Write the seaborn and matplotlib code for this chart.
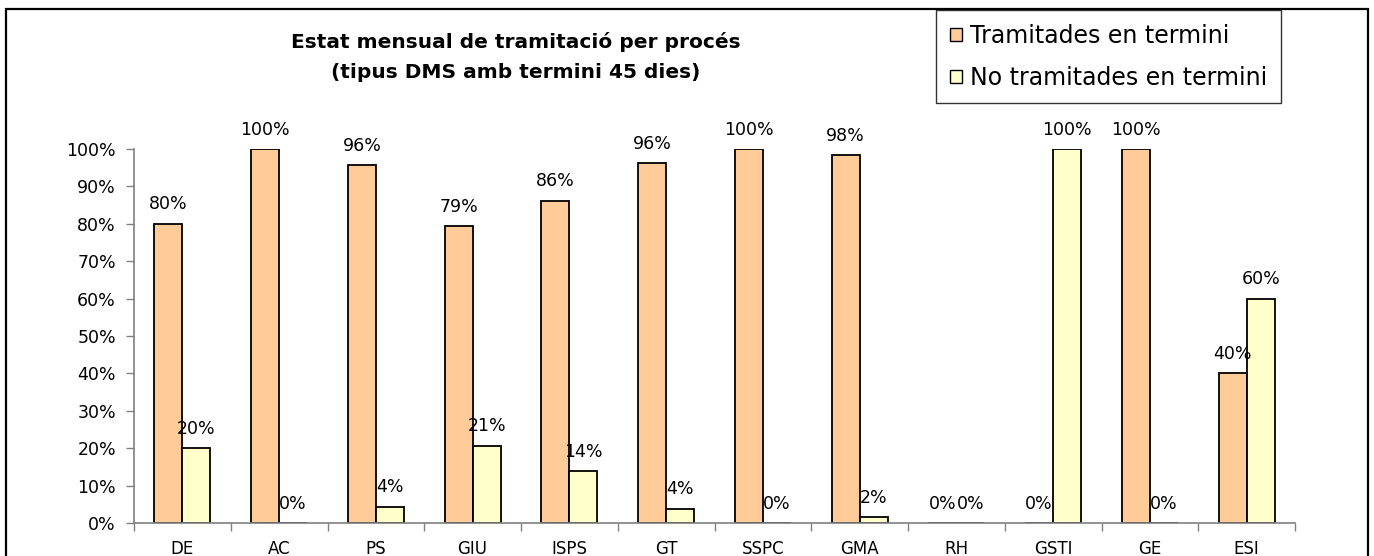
import numpy as np
import pandas as pd
import matplotlib
matplotlib.use("Agg")
import matplotlib.pyplot as plt
from matplotlib.patches import Patch, Rectangle
import seaborn as sns

# ---- data ----
categories = ["DE", "AC", "PS", "GIU", "ISPS", "GT", "SSPC", "GMA", "RH", "GSTI", "GE", "ESI"]
tramitades = [0.80, 1.00, 0.957, 0.793, 0.862, 0.962, 1.00, 0.984, 0.0, 0.0, 1.00, 0.40]
no_tramitades = [0.20, 0.0, 0.043, 0.207, 0.138, 0.038, 0.0, 0.016, 0.0, 1.00, 0.0, 0.60]
series_names = ["Tramitades en termini", "No tramitades en termini"]
y_ticks = [0.0, 0.1, 0.2, 0.3, 0.4, 0.5, 0.6, 0.7, 0.8, 0.9, 1.0]
title_text = "Estat mensual de tramitació per procés\n(tipus DMS amb termini 45 dies)"

colors = ["#FFCC99", "#FFFFCC"]

df = pd.DataFrame({
    "cat": categories * 2,
    "val": tramitades + no_tramitades,
    "serie": [series_names[0]] * len(categories) + [series_names[1]] * len(categories),
})

sns.set_style("white")
plt.rcParams["font.family"] = ["DejaVu Sans"]
plt.rcParams["text.color"] = "black"
plt.rcParams["xtick.color"] = "black"
plt.rcParams["ytick.color"] = "black"
plt.rcParams["axes.labelcolor"] = "black"

W, H = 1374, 556
fig = plt.figure(figsize=(W / 100, H / 100), dpi=100)
ax = fig.add_axes([134 / W, 1 - 523 / H, (1295 - 134) / W, (523 - 149) / H])

sns.barplot(data=df, x="cat", y="val", hue="serie", order=categories,
            hue_order=series_names, palette=colors, width=0.58,
            edgecolor="black", linewidth=1.3, legend=False, ax=ax,
            errorbar=None, saturation=1)

ax.set_xlim(-0.5, len(categories) - 0.5)
ax.set_ylim(0, 1)
ax.set_xlabel("")
ax.set_ylabel("")

# y axis
ax.set_yticks(y_ticks)
ax.set_yticklabels([f"{int(round(v * 100))}%" for v in y_ticks])
ax.tick_params(axis="y", which="major", length=6, width=1, color="#808080",
               labelcolor="black", pad=7, labelsize=12.5, left=True,
               direction="out")
# x axis
ax.set_xticks(np.arange(len(categories)))
ax.set_xticklabels(categories)
ax.tick_params(axis="x", which="major", length=0, pad=12, labelsize=12,
               labelcolor="black")
ax.set_xticks(np.arange(-0.5, len(categories), 1.0), minor=True)
ax.tick_params(axis="x", which="minor", length=6, width=1, color="#808080",
               direction="out", bottom=True)

for s in ["top", "right"]:
    ax.spines[s].set_visible(False)
for s in ["left", "bottom"]:
    ax.spines[s].set_color("#808080")
    ax.spines[s].set_linewidth(1.2)

# value labels
for cont in ax.containers:
    for bar in cont:
        h = bar.get_height()
        ax.annotate(f"{int(round(h * 100))}%",
                    (bar.get_x() + bar.get_width() / 2, h),
                    xytext=(0, 14), textcoords="offset points",
                    ha="center", va="center", fontsize=12.5, color="black")

# title
fig.text(516 / W, 1 - 57 / H, title_text, ha="center", va="center",
         fontsize=14.5, fontweight="bold", linespacing=1.7, color="black")

# legend
handles = [Patch(facecolor=c, edgecolor="black", linewidth=1) for c in colors]
leg = fig.legend(handles, series_names, loc="upper left",
                 bbox_to_anchor=(936 / W, 1 - 10 / H), borderaxespad=0,
                 fontsize=17, frameon=True, fancybox=False, shadow=False,
                 handlelength=0.5, handleheight=0.5, handletextpad=0.35,
                 labelspacing=0.76, borderpad=0.58, labelcolor="black")
leg.get_frame().set_edgecolor("black")
leg.get_frame().set_linewidth(1)

# outer chart frame
fig.add_artist(Rectangle((6 / W, -0.05), (1368 - 6) / W, (556 - 9) / H + 0.05,
                         transform=fig.transFigure, fill=False,
                         edgecolor="black", linewidth=1.6))

fig.savefig("out.png", dpi=100, facecolor="white")
